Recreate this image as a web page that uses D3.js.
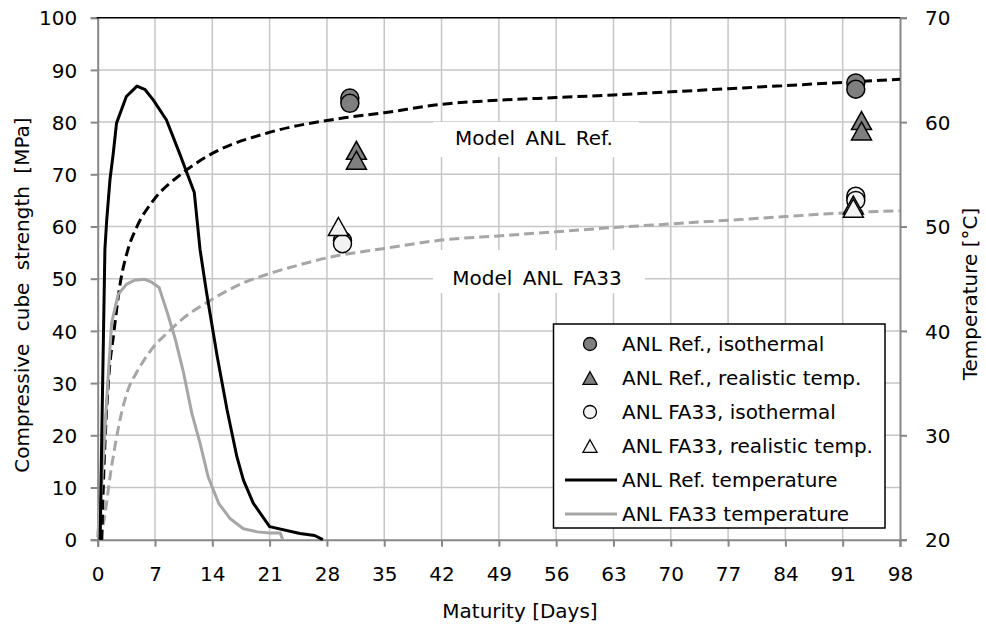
<!DOCTYPE html>
<html><head><meta charset="utf-8">
<script src="https://cdn.jsdelivr.net/npm/d3@7/dist/d3.min.js"></script>
<style>
html,body{margin:0;padding:0;background:#fff;}
text{font-family:"DejaVu Sans",sans-serif;fill:#000;}
</style></head>
<body>
<svg id="chart" width="986" height="630"></svg>
<script>
// ---------------- data ----------------
const xTicks = [0,7,14,21,28,35,42,49,56,63,70,77,84,91,98];
const yLeftTicks = [0,10,20,30,40,50,60,70,80,90,100];
const yRightTicks = [20,30,40,50,60,70];

// Model curves (compressive strength, MPa) vs maturity (days)
const modelRefDays = [0.5,0.7,1.3,2,2.7,3.7,4.8,6.8,10,14,20.7,29.6,35,42,49,56,63,70,77,84,91,98];
const modelRefStrength = [0,10.8,30,40,48.6,55.6,60,65,69.8,74,77.9,80.7,81.8,83.4,84.2,84.7,85.2,85.8,86.4,87.0,87.6,88.2];
const modelFA33Days = [0.3,0.9,1.5,2.1,2.9,3.7,4.7,5.7,6.9,8.5,10.5,13.3,17.8,21,25,28,35,42,49,56,63,70,77,84,91,98];
const modelFA33Strength = [0,5,12,17.8,24.2,28.7,31.9,34.5,37.1,39.6,42.5,45.4,49.2,51,52.8,54,55.8,57.4,58.2,59.0,59.8,60.5,61.2,61.9,62.6,63.0];

// Temperature histories (°C, right axis)
const refTempDays = [0.3,0.55,0.88,1.1,1.5,1.9,2.3,3.5,4.8,5.8,6.8,8.4,10,11.8,12.5,13.3,14.6,15.8,17,17.8,19,21,24.7,26.5,27.5];
const refTemp = [20,32.5,47.8,50.6,54.5,57,59.9,62.45,63.45,63.1,62.1,60.2,57,53.25,47.8,43.65,37.55,32.45,27.95,25.7,23.5,21.25,20.6,20.4,20];
const fa33TempDays = [0,0.5,1.1,1.7,2.5,3.5,4.5,5.7,6.5,7.5,8.5,9.5,10.5,11.5,12.5,13.5,14.8,16.2,17.8,19.5,21,22.3,22.6];
const fa33Temp = [20.25,25.4,33.4,40.75,43.5,44.45,44.85,44.95,44.7,44.15,41.75,39.15,35.95,32.1,29.25,26,23.45,22,21.05,20.75,20.65,20.65,20];

// Measured strengths
const refIsoDays = [30.8,30.8,92.6,92.6];
const refIsoStrength = [84.6,83.6,87.5,86.3];
const refRealDays = [31.6,31.6,93.3,93.3];
const refRealStrength = [74.6,72.7,80.3,78.3];
const fa33IsoDays = [29.9,29.9,92.6,92.6];
const fa33IsoStrength = [57.3,56.7,65.8,65.0];
const fa33RealDays = [29.4,92.3,92.3];
const fa33RealStrength = [60.0,64.1,63.5];

const legendLabels = ["ANL Ref., isothermal","ANL Ref., realistic temp.","ANL FA33, isothermal","ANL FA33, realistic temp.","ANL Ref. temperature","ANL FA33 temperature"];
const modelLabels = ["Model ANL Ref.","Model ANL FA33"];

// ---------------- styling ----------------
const darkFill = "#7f7f7f", lightFill = "#f2f2f2", grayLine = "#a6a6a6";
const svg = d3.select("#chart");
const L = 97.7, R = 900, T = 17.7, B = 539.7;

const x = d3.scaleLinear().domain([0,98]).range([L,R]);
const yL = d3.scaleLinear().domain([0,100]).range([B,T]);
const yR = d3.scaleLinear().domain([20,70]).range([B,T]);

// gridlines
const grid = svg.append("g").attr("stroke","#c6c6c6").attr("stroke-width",1.5);
grid.selectAll("line.v").data(xTicks.slice(1,-1)).join("line")
  .attr("x1",d=>x(d)).attr("x2",d=>x(d)).attr("y1",T).attr("y2",B);
grid.selectAll("line.h").data(yLeftTicks.slice(1,-1)).join("line")
  .attr("x1",L).attr("x2",R).attr("y1",d=>yL(d)).attr("y2",d=>yL(d));

// white boxes behind model labels
svg.append("rect").attr("x",433).attr("y",122).attr("width",206).attr("height",35).attr("fill","#fff");
svg.append("rect").attr("x",433).attr("y",250).attr("width",212).attr("height",43).attr("fill","#fff");

// axes
const fs = 20;
const axB = svg.append("g").attr("transform",`translate(0,${B})`)
  .call(d3.axisBottom(x).tickValues(xTicks).tickSize(7).tickPadding(0).tickFormat(d3.format("d")));
const axLft = svg.append("g").attr("transform",`translate(${L},0)`)
  .call(d3.axisLeft(yL).tickValues(yLeftTicks).tickSize(7).tickFormat(d3.format("d")));
const axRt = svg.append("g").attr("transform",`translate(${R},0)`)
  .call(d3.axisRight(yR).tickValues(yRightTicks).tickSize(7).tickFormat(d3.format("d")));
[axB,axLft,axRt].forEach(a=>{
  a.select(".domain").attr("stroke","#878787").attr("stroke-width",2);
  a.selectAll(".tick line").attr("stroke","#878787").attr("stroke-width",2);
  a.selectAll(".tick text").attr("font-family","DejaVu Sans").attr("font-size",fs).attr("fill","#000");
});
axB.selectAll(".tick text").attr("y",41).attr("dy",0);
axLft.selectAll(".tick text").attr("x",-20.5).attr("dy","0.36em");
axRt.selectAll(".tick text").attr("x",25).attr("dy","0.36em");
// top border
svg.append("line").attr("x1",L-1).attr("x2",R).attr("y1",T).attr("y2",T).attr("stroke","#000").attr("stroke-width",1.5);

// model curves
const lineL = d3.line().x(d=>x(d[0])).y(d=>yL(d[1])).curve(d3.curveMonotoneX);
const lineR = d3.line().x(d=>x(d[0])).y(d=>yR(d[1])).curve(d3.curveLinear);
svg.append("path").datum(d3.zip(modelFA33Days,modelFA33Strength)).attr("d",lineL)
  .attr("fill","none").attr("stroke",grayLine).attr("stroke-width",3).attr("stroke-dasharray","10,5");
svg.append("path").datum(d3.zip(modelRefDays,modelRefStrength)).attr("d",lineL)
  .attr("fill","none").attr("stroke","#000").attr("stroke-width",3).attr("stroke-dasharray","10,5");

// temperature curves
svg.append("path").datum(d3.zip(fa33TempDays,fa33Temp)).attr("d",lineR)
  .attr("fill","none").attr("stroke",grayLine).attr("stroke-width",3).attr("stroke-linejoin","round");
svg.append("path").datum(d3.zip(refTempDays,refTemp)).attr("d",lineR)
  .attr("fill","none").attr("stroke","#000").attr("stroke-width",3).attr("stroke-linejoin","round");

// markers
const tri = (s)=>{const h=s*0.9, w=s; return `M0,${-h/2}L${w/2},${h/2}L${-w/2},${h/2}Z`;};
function circles(days,vals,fill){
  svg.append("g").selectAll("circle").data(d3.zip(days,vals)).join("circle")
    .attr("cx",d=>x(d[0])).attr("cy",d=>yL(d[1])).attr("r",9)
    .attr("fill",fill).attr("stroke","#000").attr("stroke-width",1.5);
}
function triangles(days,vals,fill){
  svg.append("g").selectAll("path").data(d3.zip(days,vals)).join("path")
    .attr("transform",d=>`translate(${x(d[0])},${yL(d[1])})`).attr("d",tri(20))
    .attr("fill",fill).attr("stroke","#000").attr("stroke-width",1.5).attr("stroke-linejoin","miter");
}
circles(refIsoDays,refIsoStrength,darkFill);
triangles(refRealDays,refRealStrength,darkFill);
circles(fa33IsoDays,fa33IsoStrength,lightFill);
triangles(fa33RealDays,fa33RealStrength,lightFill);

// model labels
svg.append("text").attr("x",534).attr("y",145).attr("text-anchor","middle").attr("font-size",fs)
  .attr("word-spacing",4).text(modelLabels[0]);
svg.append("text").attr("x",537).attr("y",285).attr("text-anchor","middle").attr("font-size",fs)
  .attr("word-spacing",4).text(modelLabels[1]);

// legend
const lg = svg.append("g");
lg.append("rect").attr("x",553.5).attr("y",324).attr("width",331.5).attr("height",204)
  .attr("fill","#fff").attr("stroke","#000").attr("stroke-width",1.5);
const rowY = i => 344 + i*34;
const mx = 590;
lg.append("circle").attr("cx",mx).attr("cy",rowY(0)).attr("r",6.5).attr("fill",darkFill).attr("stroke","#000").attr("stroke-width",1.3);
lg.append("path").attr("transform",`translate(${mx},${rowY(1)})`).attr("d",tri(14)).attr("fill",darkFill).attr("stroke","#000").attr("stroke-width",1.3);
lg.append("circle").attr("cx",mx).attr("cy",rowY(2)).attr("r",6.5).attr("fill",lightFill).attr("stroke","#000").attr("stroke-width",1.3);
lg.append("path").attr("transform",`translate(${mx},${rowY(3)})`).attr("d",tri(14)).attr("fill",lightFill).attr("stroke","#000").attr("stroke-width",1.3);
lg.append("line").attr("x1",565).attr("x2",617).attr("y1",rowY(4)).attr("y2",rowY(4)).attr("stroke","#000").attr("stroke-width",3);
lg.append("line").attr("x1",565).attr("x2",617).attr("y1",rowY(5)).attr("y2",rowY(5)).attr("stroke",grayLine).attr("stroke-width",3);
lg.selectAll("text").data(legendLabels).join("text")
  .attr("x",622).attr("y",(d,i)=>rowY(i)).attr("dy","0.36em").attr("font-size",fs).text(d=>d);

// axis titles
svg.append("text").attr("x",520).attr("y",618).attr("text-anchor","middle").attr("font-size",fs).text("Maturity [Days]");
svg.append("text").attr("transform","translate(29,295) rotate(-90)").attr("text-anchor","middle")
  .attr("font-size",fs).attr("word-spacing",6).text("Compressive cube strength [MPa]");
svg.append("text").attr("transform","translate(977,294) rotate(-90)").attr("text-anchor","middle")
  .attr("font-size",fs).text("Temperature [°C]");
</script>
</body></html>
